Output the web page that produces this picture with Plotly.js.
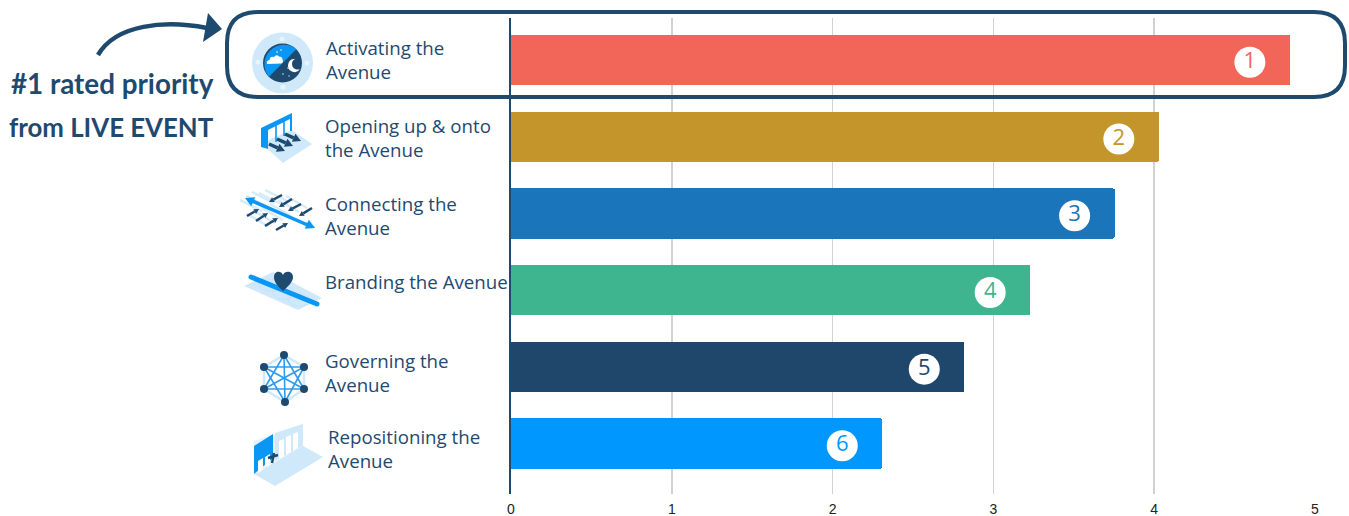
<!DOCTYPE html>
<html>
<head>
<meta charset="utf-8">
<script src="https://cdn.plot.ly/plotly-3.0.1.min.js"></script>
<style>html,body{margin:0;padding:0;background:#fff;overflow:hidden}#chart{width:1349px;height:516px}</style>
</head>
<body>
<div id="chart"></div>
<script>
// Survey priorities, highest rated first
const categories = ["Activating the Avenue","Opening up & onto the Avenue","Connecting the Avenue","Branding the Avenue","Governing the Avenue","Repositioning the Avenue"];
const labels = ["Activating the<br>Avenue","Opening up & onto<br>the Avenue","Connecting the<br>Avenue","Branding the Avenue","Governing the<br>Avenue","Repositioning the<br>Avenue"];
const scores = [4.845,4.03,3.755,3.23,2.82,2.31];
const ranks = ["1","2","3","4","5","6"];
const barColors = ["#f26659","#c4952b","#1a75bb","#3fb58f","#1f476b","#0098fe"];
const labelX = [324.5,323.5,323.5,323.5,323.5,326.5];
const labelY = [59.5,137,215.5,281,372.5,448.5];
const NAVY = "#1f4a6f", SKY = "#0a96f5", PALE = "#cfe9fb";

// Plot frame in page pixels
const L = 511, R = 1315, T = 18, B = 494;
const px = x => (x - L) / (R - L);
const py = y => (B - y) / (B - T);

// Rewrites a path given in page pixels into paper coordinates
function paperPath(cmds){
  return cmds.map(c => c[0] + " " + c.slice(1).map((v,i) => (i % 2 ? py(v) : px(v)).toFixed(5)).join(" ")).join(" ");
}

// Isometric pictograms, each one drawn in page-pixel coordinates inside its own box
function icon(x0,y0,x1,y1,body){
  const svg = `<svg xmlns="http://www.w3.org/2000/svg" width="${(x1-x0)*3}" height="${(y1-y0)*3}" viewBox="${x0} ${y0} ${x1-x0} ${y1-y0}">${body}</svg>`;
  return {source:"data:image/svg+xml;utf8,"+encodeURIComponent(svg),xref:"paper",yref:"paper",x:px(x0),y:py(y0),
    sizex:(x1-x0)/(R-L),sizey:(y1-y0)/(B-T),sizing:"stretch",xanchor:"left",yanchor:"top",layer:"above"};
}
const dash = (x1,y1,x2,y2,c,w) => `<line x1="${x1}" y1="${y1}" x2="${x2}" y2="${y2}" stroke="${c}" stroke-width="${w}"/>`;
function arrow(x1,y1,x2,y2,c,w,h){
  const a = Math.atan2(y2-y1,x2-x1), bx = x2-h*Math.cos(a), by = y2-h*Math.sin(a), n = h*0.55;
  return dash(x1,y1,bx,by,c,w)+`<polygon fill="${c}" points="${x2},${y2} ${bx-n*Math.sin(a)},${by+n*Math.cos(a)} ${bx+n*Math.sin(a)},${by-n*Math.cos(a)}"/>`;
}

const activating = `<circle cx="282.5" cy="63" r="30.5" fill="${PALE}"/>
 <circle cx="282.5" cy="63" r="19.5" fill="${NAVY}"/>
 <path d="M269 76.8 A19.5 19.5 0 0 1 296.3 49.2 Z" fill="${SKY}"/>
 <path d="M267 64 q-1 -3.500 2.500 -4 q0.500 -4 4.500 -3 q2.500 -3 5 -0.500 q3.500 0 3.500 3 q1.500 3 -1.500 4 Z" fill="#fff"/>
 <path d="M295 59 a6.500 6.500 0 1 0 5 10 a5.500 5.500 0 0 1 -5 -10 Z" fill="#fff"/>
 <circle cx="283" cy="74" r="0.8" fill="#cfe9fb"/><circle cx="288" cy="68" r="0.8" fill="#cfe9fb"/><circle cx="277" cy="52" r="0.8" fill="#fff"/><circle cx="281" cy="50" r="0.8" fill="#fff"/><circle cx="289" cy="76" r="0.7" fill="#cfe9fb"/>
 <circle cx="282" cy="39" r="2.500" fill="#e6f4fe"/><circle cx="283" cy="87" r="2.500" fill="#e6f4fe"/><circle cx="258" cy="62" r="2.500" fill="#e6f4fe"/><circle cx="307" cy="63" r="2.500" fill="#e6f4fe"/>`;

const opening = `<polygon points="261,143 283,163 312,144 292,130" fill="${PALE}"/>
 <polygon points="261,128 292,113 292,118 268,130 268,149 261,147" fill="${SKY}"/>
 ${dash(276,124,276,142,SKY,1.6)}${dash(284,120,284,136,SKY,1.6)}${dash(291,116,291,131,SKY,2)}
 ${arrow(269,144,285,151,NAVY,3.5,8)}${arrow(277,139,293,146,NAVY,3.5,8)}${arrow(285,134,301,141,NAVY,3.5,8)}`;

let stripes = "";
for (const [a,b,c,d] of [[240,200,262,211],[246,196,268,207],[252,192,274,203],[259,193,281,204],[265,190,287,201],[247,214,268,226],[254,211,275,223],[262,208,283,220],[270,204,291,216],[278,200,299,212],[286,196,307,208]])
  stripes += dash(a,b,c,d,"#d5ebfa",2.5);
const connecting = stripes +
 arrow(282,195,269,202,NAVY,2.5,5)+arrow(292,199,279,207,NAVY,2.5,5)+arrow(301,204,288,211,NAVY,2.5,5)+arrow(312,208,299,216,NAVY,2.5,5)+
 arrow(247,216,259,209,NAVY,2.5,5)+arrow(256,221,268,213,NAVY,2.5,5)+arrow(265,226,278,218,NAVY,2.5,5)+arrow(276,230,288,223,NAVY,2.5,5)+
 arrow(254,202,245,198,SKY,3.5,9)+arrow(306,224,315,228,SKY,3.5,9)+dash(250,200,310,226,SKY,3.5);

const branding = `<polygon points="244,286 273,272 322,298 298,310" fill="${PALE}"/>
 <g fill="none" stroke="#a9d6f5" stroke-width="0.8" stroke-dasharray="1 1.5"><ellipse cx="270" cy="285" rx="11" ry="6"/><ellipse cx="284" cy="293" rx="11" ry="6"/><ellipse cx="299" cy="300" rx="11" ry="6"/></g>
 <line x1="251" y1="277" x2="317" y2="304" stroke="#0a96f5" stroke-width="5" stroke-linecap="round"/>
 <path d="M283 291 C276 285 274 281 274 277 C274 271 281 270 283 275 C285 270 293 271 293 277 C293 281 290 285 283 291 Z" fill="${NAVY}"/>`;

const nodes = [[284,355],[304,367],[304,389],[285,402],[264,389],[264,367]];
let mesh = `<polygon points="${nodes.map(n=>n.join(",")).join(" ")}" fill="none" stroke="#cfe9fb" stroke-width="2.500"/>`;
for (let i=0;i<nodes.length;i++) for (let j=i+1;j<nodes.length;j++)
  if ((j-i)%6!==1 && (j-i)%6!==5) mesh += dash(nodes[i][0],nodes[i][1],nodes[j][0],nodes[j][1],"#2f9bec",1.6);
const governing = mesh + nodes.map(n=>`<circle cx="${n[0]}" cy="${n[1]}" r="4" fill="${NAVY}"/>`).join("");

const repositioning = `<polygon points="254,474 275,486 323,457 303,446" fill="${PALE}"/>
 <polygon points="254,474 254,441 303,424 303,446 275,461" fill="#e3f2fc"/>
 <polygon points="275,433 303,424 303,446 275,461" fill="${PALE}"/>
 <polygon points="286,437 291,435 291,452 286,455" fill="#fff"/><polygon points="293,434 298,432 298,448 293,451" fill="#fff"/><polygon points="279,441 284,439 284,456 279,459" fill="#fff"/>
 <polygon points="254,446 273,434 273,458 254,474" fill="${SKY}"/>
 <polygon points="258,461 263,458 263,470 258,473" fill="#fff"/><polygon points="265,457 270,454 270,465 265,468" fill="#fff"/>
 <path d="M272 463 L274 453 M268 458 L278 455" stroke="${NAVY}" stroke-width="2.500" fill="none"/>`;

const images = [
  icon(250,30,315,96,activating),
  icon(258,110,315,165,opening),
  icon(238,188,318,236,connecting),
  icon(242,268,325,312,branding),
  icon(258,349,310,408,governing),
  icon(252,422,325,488,repositioning)
];

// Rounded outline around the top-rated row, and the curved pointer leading to it
const outline = paperPath([["M",258,12],["L",1314,12],["Q",1345,12,1345,43],["L",1345,66],["Q",1345,97,1314,97],["L",258,97],["Q",227,97,227,66],["L",227,43],["Q",227,12,258,12],["Z"]]);
const pointerLine = paperPath([["M",98,55],["C",116,24,165,20,207,28]]);
const pointerHead = paperPath([["M",208,13],["L",222,29],["L",203,42],["Z"]]);

const shapes = [
  {type:"path",xref:"paper",yref:"paper",path:outline,line:{color:NAVY,width:4},layer:"above"},
  {type:"path",xref:"paper",yref:"paper",path:pointerLine,line:{color:NAVY,width:4.5},layer:"above"},
  {type:"path",xref:"paper",yref:"paper",path:pointerHead,fillcolor:NAVY,line:{width:0},layer:"above"}
];

const calloutLines = ["#1 rated priority","from LIVE EVENT"];
const calloutSizes = [27.8,25.8];
const annotations = labels.map((t,i) => ({
  text:t,xref:"paper",yref:"paper",x:px(labelX[i]),y:py(labelY[i]),xanchor:"left",yanchor:"middle",align:"left",
  showarrow:false,borderpad:0,font:{family:"Open Sans",size:18.7,color:NAVY}
})).concat(calloutLines.map((t,i) => ({
  text:t,xref:"paper",yref:"paper",x:px(214.5),y:py(i ? 127 : 84),xanchor:"right",yanchor:"middle",align:"right",
  showarrow:false,borderpad:0,font:{family:"Lato",size:calloutSizes[i],color:NAVY,weight:700}
})));

const bars = {
  type:"bar",orientation:"h",x:scores,y:categories,width:0.655,
  marker:{color:barColors,cornerradius:2,line:{width:0}},hoverinfo:"x+y"
};
// White rank badges sit a fixed distance inside the end of each bar, on a slightly offset overlay axis
const BADGE_INSET = 0.25;
const badges = {
  type:"scatter",mode:"markers+text",x:scores.map(v => v - BADGE_INSET),y:categories,yaxis:"y2",text:ranks,
  textposition:"middle center",textfont:{family:"Open Sans",size:22,color:barColors},
  marker:{color:"#fff",size:31,line:{width:0}},hoverinfo:"skip",cliponaxis:false
};

Plotly.newPlot("chart",[bars,badges],{
  width:1349,height:516,margin:{l:L,r:1349-R,t:T,b:516-B,pad:0},
  paper_bgcolor:"#fff",plot_bgcolor:"#fff",showlegend:false,bargap:0,
  xaxis:{range:[0,5],tickvals:[0,1,2,3,4,5],showgrid:true,gridcolor:"#d2d2d2",gridwidth:1.5,zeroline:false,showline:false,ticks:"",
    ticklabelstandoff:5,tickfont:{family:"Liberation Sans",size:14,color:"#222"},fixedrange:true},
  yaxis:{type:"category",categoryorder:"array",categoryarray:categories,range:[5.658,-0.548],showticklabels:false,showgrid:false,zeroline:false,
    showline:true,linecolor:NAVY,linewidth:2,ticks:"",fixedrange:true},
  yaxis2:{type:"category",categoryorder:"array",categoryarray:categories,overlaying:"y",range:[5.628,-0.578],showticklabels:false,showgrid:false,zeroline:false,
    showline:false,ticks:"",fixedrange:true},
  shapes:shapes,annotations:annotations,images:images
},{displayModeBar:false,staticPlot:true});
</script>
</body>
</html>
